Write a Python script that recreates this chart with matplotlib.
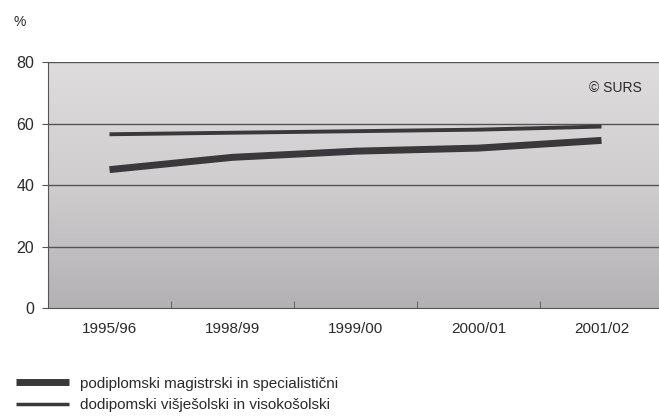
import numpy as np
import matplotlib
matplotlib.use("Agg")
import matplotlib.pyplot as plt
from matplotlib.lines import Line2D

categories = ["1995/96", "1998/99", "1999/00", "2000/01", "2001/02"]
podiplomski = [45.0, 49.0, 51.0, 52.0, 54.5]
dodiplomski = [56.5, 57.0, 57.5, 58.0, 59.0]
series_labels = ["podiplomski magistrski in specialistični",
                 "dodipomski višješolski in visokošolski"]
yticks = [0, 20, 40, 60, 80]

plt.rcParams['font.family'] = ['Liberation Sans', 'DejaVu Sans']

fig = plt.figure(figsize=(6.59, 4.19), dpi=100)
fig.patch.set_facecolor('white')
ax = fig.add_axes([48/659, 1-308/419, 615/659, 246/419])

x = np.arange(len(categories))
ax.set_xlim(-0.5, len(categories) - 0.5)
ax.set_ylim(0, 80)

# gradient background
grad = np.linspace(0, 1, 256).reshape(-1, 1)
ax.imshow(grad, extent=(-0.5, len(categories) - 0.5, 0, 80), origin='lower',
          aspect='auto', cmap=matplotlib.colors.LinearSegmentedColormap.from_list(
              'g', ['#b3b1b3', '#cfcdce', '#dedcdd']), zorder=0)

for yv in yticks[1:]:
    ax.axhline(yv, color='#555355', lw=1.0, zorder=1)

ax.plot(x, dodiplomski, color='#3a383a', lw=2.8, solid_capstyle='butt', zorder=3)
ax.plot(x, podiplomski, color='#3a383a', lw=5, solid_capstyle='butt', zorder=3)

ax.set_yticks(yticks)
ax.set_yticklabels([str(v) for v in yticks], fontsize=11.5, color='#2a2a2a')
ax.set_xticks(x)
ax.set_xticklabels(categories, fontsize=11, color='#2a2a2a')
ax.set_xticks(np.arange(len(categories)) + 0.5, minor=True)
ax.tick_params(axis='x', which='major', length=0, pad=10)
ax.tick_params(axis='x', which='minor', length=5, color='#555555', direction='in')
ax.tick_params(axis='y', length=4, color='#555555', pad=6)

for s in ['top', 'right']:
    ax.spines[s].set_visible(False)
ax.spines['left'].set_color('#555555')
ax.spines['bottom'].set_color('#555555')

ax.text(0.965, 0.894, "© SURS", transform=ax.transAxes, ha='right', va='center',
        fontsize=10, color='#2a2a2a')
fig.text(14/659, 1-22/419, "%", fontsize=10, color='#2a2a2a', va='center')

handles = [Line2D([0], [0], color='#3a383a', lw=5, solid_capstyle='butt'),
           Line2D([0], [0], color='#3a383a', lw=2.5, solid_capstyle='butt')]
leg = fig.legend(handles, series_labels, loc='upper left',
                 bbox_to_anchor=(2/659, 1-363/419), frameon=False, fontsize=11,
                 handlelength=3.5, handletextpad=0.7, labelspacing=0.5)
for t in leg.get_texts():
    t.set_color('#2a2a2a')

fig.savefig("out.png", dpi=100, facecolor='white')
